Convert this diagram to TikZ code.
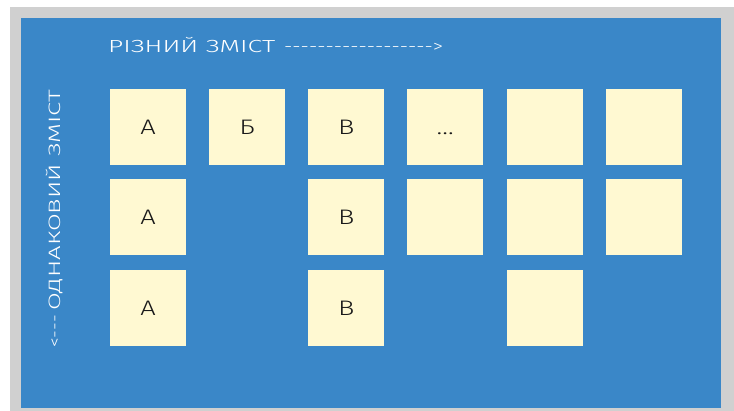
\documentclass[tikz,border=0pt]{standalone}
\usepackage{fontspec}
\usepackage{graphicx}
\IfFontExistsTF{Fira Sans Light}{\setmainfont{Fira Sans Light}}{\setmainfont{Fira Sans}}
\definecolor{bgblue}{RGB}{58,135,200}
\definecolor{framegray}{RGB}{208,208,208}
\definecolor{notefill}{RGB}{255,249,210}
\definecolor{inkc}{RGB}{25,25,25}
\newcommand{\widetxt}[1]{\scalebox{1.3}[1]{#1}}
\begin{document}
\begin{tikzpicture}[x=1pt,y=-1pt,
  stickynote/.style={fill=notefill, draw=none, minimum width=76pt, minimum height=76pt,
    inner sep=0pt, anchor=north west, text=inkc, text height=15pt, text depth=0pt,
    font=\fontsize{21}{21}\selectfont},
  axislabel/.style={inner sep=0pt, text=white}]
\useasboundingbox (0,0) rectangle (734,411);
\fill[framegray] (10,7) rectangle (734,411);
\fill[bgblue] (21,18) rectangle (721,408);

% row 1
\node[stickynote] (n11) at (110,89) {\widetxt{А}};
\node[stickynote] (n12) at (209,89) {\widetxt{Б}};
\node[stickynote] (n13) at (308,89) {\widetxt{В}};
\node[stickynote] (n14) at (407,89) {\widetxt{...}};
\node[stickynote] (n15) at (507,89) {};
\node[stickynote] (n16) at (606,89) {};
% row 2
\node[stickynote] (n21) at (110,179) {\widetxt{А}};
\node[stickynote] (n23) at (308,179) {\widetxt{В}};
\node[stickynote] (n24) at (407,179) {};
\node[stickynote] (n25) at (507,179) {};
\node[stickynote] (n26) at (606,179) {};
% row 3
\node[stickynote] (n31) at (110,270) {\widetxt{А}};
\node[stickynote] (n33) at (308,270) {\widetxt{В}};
\node[stickynote] (n35) at (507,270) {};

% axis labels
\node[axislabel, anchor=base west, font=\fontsize{17.5}{17.5}\selectfont] (toplabel) at (108,53)
  {\resizebox{167pt}{\height}{РІЗНИЙ ЗМІСТ}\hspace{9pt}\resizebox{159pt}{\height}{-{}-{}-{}-{}-{}-{}-{}-{}-{}-{}-{}-{}-{}-{}-{}-{}-{}->}};
\node[axislabel, anchor=base west, rotate=90, font=\fontsize{16.5}{16.5}\selectfont] (sidelabel) at (60,348)
  {\resizebox{33pt}{\height}{<-{}-{}-}\hspace{4pt}\resizebox{221pt}{\height}{ОДНАКОВИЙ ЗМІСТ}};
\end{tikzpicture}
\end{document}
